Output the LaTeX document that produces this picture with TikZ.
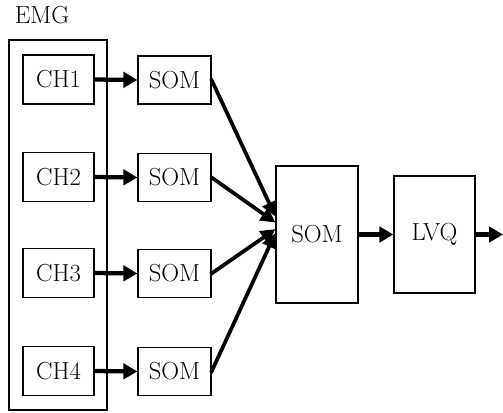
\documentclass[tikz,border=0pt]{standalone}
\usetikzlibrary{arrows.meta}
\begin{document}
\begin{tikzpicture}[x=0.75pt,y=-0.75pt,
  every node/.style={font=\fontsize{18.5}{22}\selectfont, inner sep=0pt},
  blk/.style={draw, line width=0.9pt, rectangle},
  chbox/.style={blk, minimum width=53.25pt, minimum height=36.75pt},
  sombox/.style={blk, minimum width=54.75pt, minimum height=36pt},
  flow/.style={line width=3.2pt, -{Triangle[length=10.5pt,width=11.5pt]}},
  feed/.style={line width=2.8pt, -{Triangle[length=11pt,width=11pt]}, shorten <=-1pt}
]
\useasboundingbox (0,0) rectangle (503,412);

% electrode group
\node (emglabel) at (42,15) {EMG};
\node[blk, minimum width=73.5pt, minimum height=277.5pt] (emg) at (58,225) {};

% input channels
\node[chbox] (ch1) at (58.5,79.5) {CH1};
\node[chbox] (ch2) at (58.5,177) {CH2};
\node[chbox] (ch3) at (58.5,273) {CH3};
\node[chbox] (ch4) at (58.5,371) {CH4};

% first-stage maps
\node[sombox] (som1) at (174.5,80) {SOM};
\node[sombox] (som2) at (174.5,177.5) {SOM};
\node[sombox] (som3) at (174.5,273.5) {SOM};
\node[sombox] (som4) at (174.5,371.5) {SOM};

% second-stage map and classifier
\node[blk, minimum width=61.5pt, minimum height=102.75pt] (big) at (317,234.5) {SOM};
\node[blk, minimum width=60.75pt, minimum height=87.75pt] (lvq) at (434.5,234.5) {LVQ};
\coordinate (out) at (503,234.5);

% channel to map arrows
\foreach \i in {1,2,3,4}
  \draw[flow] (ch\i.east) -- (som\i.west);

% converging arrows into the second-stage map
\draw[feed] (som1.east) -- ([yshift=13.5pt]big.west);
\draw[feed] (som2.east) -- ([yshift=9pt]big.west);
\draw[feed] (som3.east) -- ([yshift=4pt]big.west);
\draw[feed] (som4.east) -- ([yshift=1pt]big.west);

\draw[flow] (big.east) -- (lvq.west);
\draw[flow] (lvq.east) -- (out);
\end{tikzpicture}
\end{document}
